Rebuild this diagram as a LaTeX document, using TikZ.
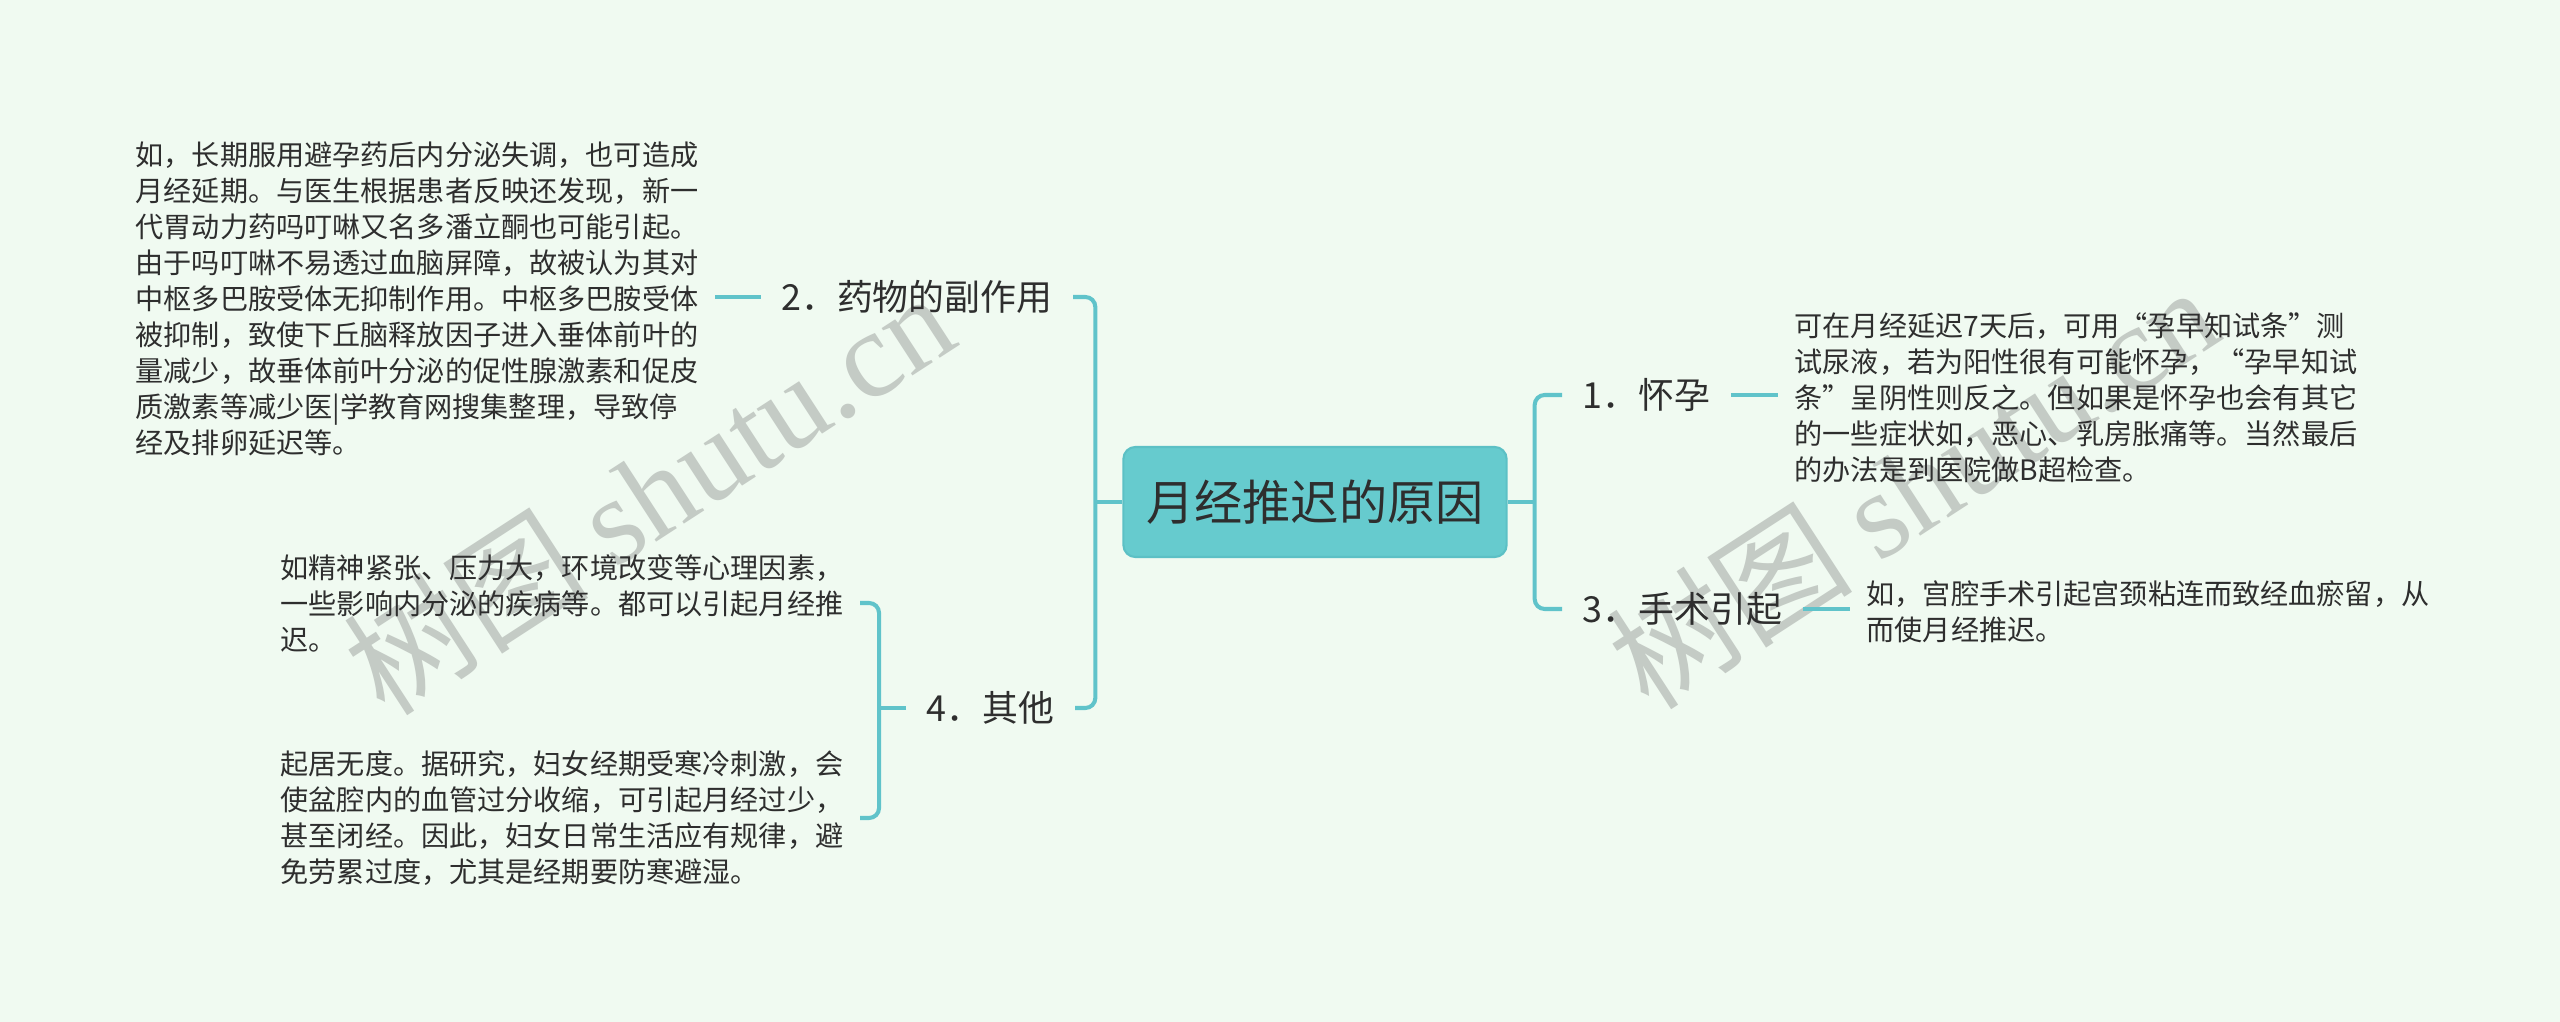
\documentclass[tikz,border=0pt]{standalone}
\usepackage{fontspec}
\setmainfont{Noto Sans CJK SC}
\newfontfamily\wmfont{Liberation Serif}
\usetikzlibrary{calc}
\definecolor{bgmint}{HTML}{F0FAF1}
\definecolor{linecol}{HTML}{60C3CA}
\definecolor{topicfill}{HTML}{66CBCE}
\definecolor{topicline}{HTML}{5CC0C5}
\definecolor{inktext}{HTML}{2E2E2E}
\definecolor{wmgray}{HTML}{C4CBC5}

\begin{document}
\begin{tikzpicture}[x=0.01cm, y=-0.01cm,
		topic/.style={rectangle, rounded corners=0.12cm, fill=topicfill, draw=topicline,
			line width=0.6pt, minimum width=3.83cm, minimum height=1.1cm,
			font=\fontsize{13.7}{16}\selectfont, text=inktext},
		subtopic/.style={inner xsep=0.2cm, inner ysep=0pt,
			font=\fontsize{10.2}{12}\selectfont, text=inktext},
		note/.style={inner xsep=0.16cm, inner ysep=0pt, align=left,
			font=\fontsize{8}{10.25}\selectfont, text=inktext},
		conn/.style={draw=linecol, line width=1.15pt, rounded corners=0.1cm},
		wmark/.style={rotate=33, text=wmgray, font=\fontsize{35}{35}\selectfont}]

		\fill [bgmint] (0,0) rectangle (2560,1022);
		\useasboundingbox (0,0) rectangle (2560,1022);

		% watermarks
		\node [wmark] (wm-left) at (648,492) {树图 {\wmfont shutu.cn}};
		\node [wmark] (wm-right) at (1912,486) {树图 {\wmfont shutu.cn}};

		\node [topic] (root) at (1315,502) {月经推迟的原因};

		\node [subtopic, anchor=west] (s1) at (1562,395) {1．怀孕};
		\node [subtopic, anchor=east] (s2) at (1073,297) {2．药物的副作用};
		\node [subtopic, anchor=west] (s3) at (1562,609) {3．手术引起};
		\node [subtopic, anchor=east] (s4) at (1075,708) {4．其他};

		\node [note, anchor=west] (n1) at (1778,398) {
			可在月经延迟7天后，可用“孕早知试条”测\\
			试尿液，若为阳性很有可能怀孕，“孕早知试\\
			条”呈阴性则反之。但如果是怀孕也会有其它\\
			的一些症状如，恶心、乳房胀痛等。当然最后\\
			的办法是到医院做B超检查。
		};
		\node [note, anchor=east] (n2) at (715,299) {
			如，长期服用避孕药后内分泌失调，也可造成\\
			月经延期。与医生根据患者反映还发现，新一\\
			代胃动力药吗叮啉又名多潘立酮也可能引起。\\
			由于吗叮啉不易透过血脑屏障，故被认为其对\\
			中枢多巴胺受体无抑制作用。中枢多巴胺受体\\
			被抑制，致使下丘脑释放因子进入垂体前叶的\\
			量减少，故垂体前叶分泌的促性腺激素和促皮\\
			质激素等减少医|学教育网搜集整理，导致停\\
			经及排卵延迟等。
		};
		\node [note, anchor=west] (n3) at (1850,612) {
			如，宫腔手术引起宫颈粘连而致经血瘀留，从\\
			而使月经推迟。
		};
		\node [note, anchor=east] (n4a) at (860,603) {
			如精神紧张、压力大，环境改变等心理因素，\\
			一些影响内分泌的疾病等。都可以引起月经推\\
			迟。
		};
		\node [note, anchor=east] (n4b) at (860,818) {
			起居无度。据研究，妇女经期受寒冷刺激，会\\
			使盆腔内的血管过分收缩，可引起月经过少，\\
			甚至闭经。因此，妇女日常生活应有规律，避\\
			免劳累过度，尤其是经期要防寒避湿。
		};

		% brackets
		\coordinate (rj) at ($(root.east)+(27,0)$);
		\coordinate (lj) at ($(root.west)+(-27,0)$);
		\coordinate (j4) at ($(s4.west)+(-27,0)$);
		\draw [conn] (root.east) -- (rj);
		\draw [conn] (s1.west) -| (rj) |- (s3.west);
		\draw [conn] (root.west) -- (lj);
		\draw [conn] (s2.east) -| (lj) |- (s4.east);
		\draw [conn] (s4.west) -- (j4);
		\draw [conn] (n4a.east) -| (j4) |- (n4b.east);

		\foreach \s/\n in {s1/n1, s3/n3} {
			\draw [conn] (\s.east) -- (\s.east -| \n.west);
		};
		\draw [conn] (s2.west) -- (s2.west -| n2.east);

	\end{tikzpicture}
\end{document}
